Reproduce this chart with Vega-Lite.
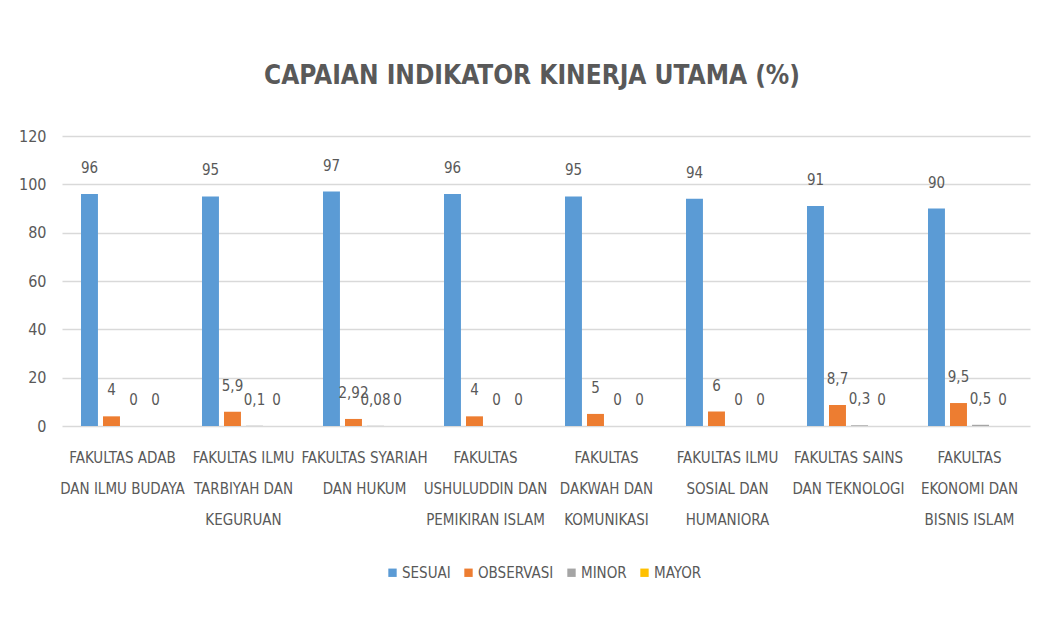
{
  "$schema": "https://vega.github.io/schema/vega-lite/v6.json",
  "width": 968,
  "height": 290,
  "autosize": {"type": "none"},
  "padding": {"left": 62, "top": 136, "right": 20, "bottom": 195},
  "background": "white",
  "title": {
    "text": "CAPAIAN INDIKATOR KINERJA UTAMA (%)",
    "font": "DejaVu Sans Condensed, Liberation Sans Narrow, Open Sans",
    "fontSize": 26,
    "fontWeight": "bold",
    "color": "#595959",
    "anchor": "middle",
    "offset": 39,
    "dx": -14
  },
  "data": {
    "values": [
      {"fakultas": "FAKULTAS ADAB\nDAN ILMU BUDAYA", "kategori": "SESUAI", "nilai": 96},
      {"fakultas": "FAKULTAS ADAB\nDAN ILMU BUDAYA", "kategori": "OBSERVASI", "nilai": 4},
      {"fakultas": "FAKULTAS ADAB\nDAN ILMU BUDAYA", "kategori": "MINOR", "nilai": 0},
      {"fakultas": "FAKULTAS ADAB\nDAN ILMU BUDAYA", "kategori": "MAYOR", "nilai": 0},
      {"fakultas": "FAKULTAS ILMU\nTARBIYAH DAN\nKEGURUAN", "kategori": "SESUAI", "nilai": 95},
      {"fakultas": "FAKULTAS ILMU\nTARBIYAH DAN\nKEGURUAN", "kategori": "OBSERVASI", "nilai": 5.9},
      {"fakultas": "FAKULTAS ILMU\nTARBIYAH DAN\nKEGURUAN", "kategori": "MINOR", "nilai": 0.1},
      {"fakultas": "FAKULTAS ILMU\nTARBIYAH DAN\nKEGURUAN", "kategori": "MAYOR", "nilai": 0},
      {"fakultas": "FAKULTAS SYARIAH\nDAN HUKUM", "kategori": "SESUAI", "nilai": 97},
      {"fakultas": "FAKULTAS SYARIAH\nDAN HUKUM", "kategori": "OBSERVASI", "nilai": 2.92},
      {"fakultas": "FAKULTAS SYARIAH\nDAN HUKUM", "kategori": "MINOR", "nilai": 0.08},
      {"fakultas": "FAKULTAS SYARIAH\nDAN HUKUM", "kategori": "MAYOR", "nilai": 0},
      {"fakultas": "FAKULTAS\nUSHULUDDIN DAN\nPEMIKIRAN ISLAM", "kategori": "SESUAI", "nilai": 96},
      {"fakultas": "FAKULTAS\nUSHULUDDIN DAN\nPEMIKIRAN ISLAM", "kategori": "OBSERVASI", "nilai": 4},
      {"fakultas": "FAKULTAS\nUSHULUDDIN DAN\nPEMIKIRAN ISLAM", "kategori": "MINOR", "nilai": 0},
      {"fakultas": "FAKULTAS\nUSHULUDDIN DAN\nPEMIKIRAN ISLAM", "kategori": "MAYOR", "nilai": 0},
      {"fakultas": "FAKULTAS\nDAKWAH DAN\nKOMUNIKASI", "kategori": "SESUAI", "nilai": 95},
      {"fakultas": "FAKULTAS\nDAKWAH DAN\nKOMUNIKASI", "kategori": "OBSERVASI", "nilai": 5},
      {"fakultas": "FAKULTAS\nDAKWAH DAN\nKOMUNIKASI", "kategori": "MINOR", "nilai": 0},
      {"fakultas": "FAKULTAS\nDAKWAH DAN\nKOMUNIKASI", "kategori": "MAYOR", "nilai": 0},
      {"fakultas": "FAKULTAS ILMU\nSOSIAL DAN\nHUMANIORA", "kategori": "SESUAI", "nilai": 94},
      {"fakultas": "FAKULTAS ILMU\nSOSIAL DAN\nHUMANIORA", "kategori": "OBSERVASI", "nilai": 6},
      {"fakultas": "FAKULTAS ILMU\nSOSIAL DAN\nHUMANIORA", "kategori": "MINOR", "nilai": 0},
      {"fakultas": "FAKULTAS ILMU\nSOSIAL DAN\nHUMANIORA", "kategori": "MAYOR", "nilai": 0},
      {"fakultas": "FAKULTAS SAINS\nDAN TEKNOLOGI", "kategori": "SESUAI", "nilai": 91},
      {"fakultas": "FAKULTAS SAINS\nDAN TEKNOLOGI", "kategori": "OBSERVASI", "nilai": 8.7},
      {"fakultas": "FAKULTAS SAINS\nDAN TEKNOLOGI", "kategori": "MINOR", "nilai": 0.3},
      {"fakultas": "FAKULTAS SAINS\nDAN TEKNOLOGI", "kategori": "MAYOR", "nilai": 0},
      {"fakultas": "FAKULTAS\nEKONOMI DAN\nBISNIS ISLAM", "kategori": "SESUAI", "nilai": 90},
      {"fakultas": "FAKULTAS\nEKONOMI DAN\nBISNIS ISLAM", "kategori": "OBSERVASI", "nilai": 9.5},
      {"fakultas": "FAKULTAS\nEKONOMI DAN\nBISNIS ISLAM", "kategori": "MINOR", "nilai": 0.5},
      {"fakultas": "FAKULTAS\nEKONOMI DAN\nBISNIS ISLAM", "kategori": "MAYOR", "nilai": 0}
    ]
  },
  "encoding": {
    "x": {
      "field": "fakultas",
      "type": "nominal",
      "sort": null,
      "scale": {"paddingInner": 0.314, "paddingOuter": 0.157},
      "axis": {
        "title": null,
        "labelAngle": 0,
        "domain": false,
        "ticks": false,
        "labelPadding": 24,
        "labelFontSize": 15,
        "labelLineHeight": 31,
        "labelColor": "#595959",
        "labelBaseline": "top",
        "labelExpr": "split(datum.value, '\\n')"
      }
    },
    "xOffset": {
      "field": "kategori",
      "type": "nominal",
      "sort": ["SESUAI", "OBSERVASI", "MINOR", "MAYOR"],
      "scale": {"paddingInner": 0.23, "paddingOuter": 0}
    },
    "y": {
      "field": "nilai",
      "type": "quantitative",
      "scale": {"domain": [0, 120], "nice": false},
      "axis": {
        "title": null,
        "values": [0, 20, 40, 60, 80, 100, 120],
        "domain": false,
        "ticks": false,
        "labelPadding": 16,
        "labelFontSize": 16,
        "labelColor": "#595959",
        "gridColor": "#d9d9d9",
        "gridWidth": 1.5
      }
    }
  },
  "layer": [
    {
      "mark": {"type": "bar"},
      "encoding": {
        "color": {
          "field": "kategori",
          "type": "nominal",
          "sort": ["SESUAI", "OBSERVASI", "MINOR", "MAYOR"],
          "scale": {
            "domain": ["SESUAI", "OBSERVASI", "MINOR", "MAYOR"],
            "range": ["#5B9BD5", "#ED7D31", "#A5A5A5", "#FFC000"]
          },
          "legend": {
            "title": null,
            "orient": "none",
            "legendX": 323,
            "legendY": 429,
            "direction": "horizontal",
            "symbolType": "square",
            "symbolSize": 70,
            "labelFontSize": 15,
            "labelColor": "#595959",
            "columnPadding": 10,
            "labelOffset": 2
          }
        }
      }
    },
    {
      "mark": {
        "type": "text",
        "baseline": "middle",
        "dy": -26,
        "fontSize": 15,
        "color": "#595959"
      },
      "encoding": {
        "text": {"field": "nilai", "type": "quantitative", "format": "~r"}
      }
    }
  ],
  "config": {
    "font": "DejaVu Sans Condensed, Liberation Sans Narrow, Open Sans",
    "view": {"stroke": null},
    "locale": {
      "number": {
        "decimal": ",",
        "thousands": ".",
        "grouping": [3],
        "currency": ["", ""]
      }
    }
  }
}
